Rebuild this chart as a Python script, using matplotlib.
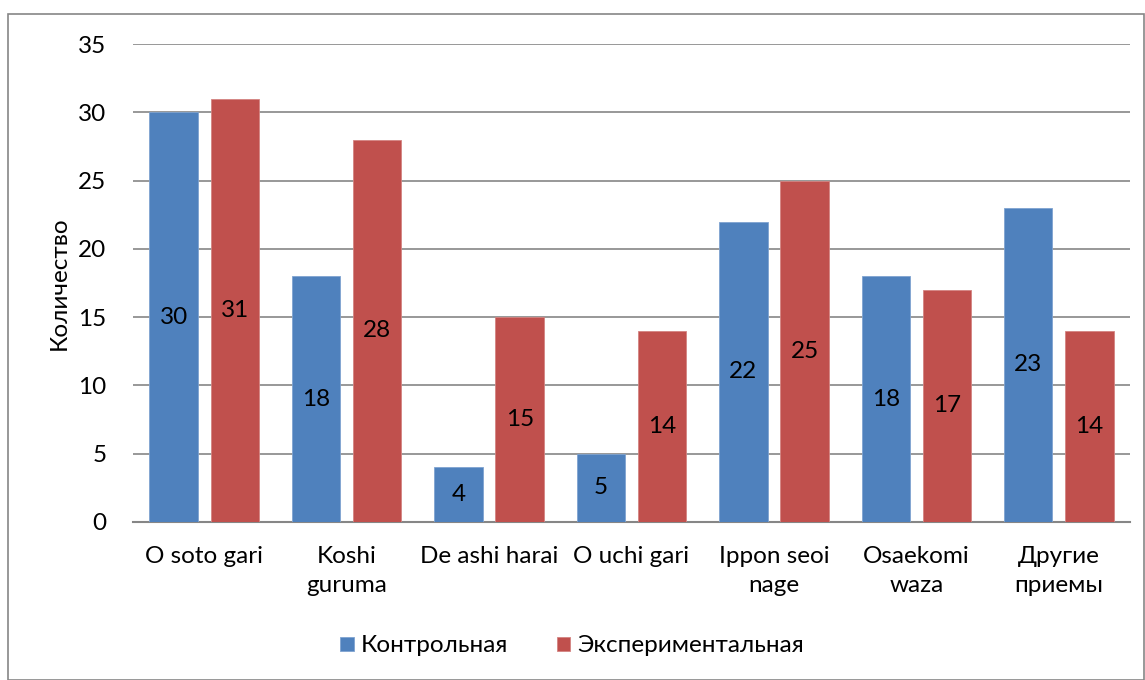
import matplotlib.pyplot as plt
import numpy as np
from matplotlib.patches import Rectangle

categories = ["O soto gari", "Koshi\nguruma", "De ashi harai", "O uchi gari",
              "Ippon seoi\nnage", "Osaekomi\nwaza", "Другие\nприемы"]
control = [30, 18, 4, 5, 22, 18, 23]
experimental = [31, 28, 15, 14, 25, 17, 14]
series_names = ["Контрольная", "Экспериментальная"]
y_label = "Количество"

plt.rcParams['font.family'] = ['Lato', 'DejaVu Sans']
FS = 17.5

fig = plt.figure(figsize=(11.45, 6.8), dpi=100)
fig.patches.append(Rectangle((8 / 1145, 0.0), 1 - 8 / 1145 - 1 / 1145, 1 - 14 / 680,
                             transform=fig.transFigure, fill=False,
                             edgecolor='#868686', linewidth=1.2))
ax = fig.add_axes([133 / 1145, 1 - 522 / 680, (1130 - 133) / 1145, (522 - 44) / 680])

x = np.arange(len(categories))
w = 0.34
b1 = ax.bar(x - 0.215, control, width=w, color='#4F81BD', edgecolor='#7FA3D0', linewidth=0.6,
            label=series_names[0], zorder=3)
b2 = ax.bar(x + 0.215, experimental, width=w, color='#C0504D', edgecolor='#D48482', linewidth=0.6,
            label=series_names[1], zorder=3)

for bars in (b1, b2):
    for r in bars:
        h = r.get_height()
        ax.text(r.get_x() + r.get_width() / 2, h / 2, str(int(h)), ha='center', va='center',
                fontsize=FS, zorder=4)

ax.set_xlim(-0.5, len(categories) - 0.5)
ax.set_ylim(0, 35)
ax.set_yticks(range(0, 36, 5))
ax.grid(axis='y', color='#868686', linewidth=1.2, zorder=0)
for s in ['top', 'right', 'left']:
    ax.spines[s].set_visible(False)
ax.spines['bottom'].set_color('#868686')
ax.spines['bottom'].set_linewidth(1.5)
ax.set_xticks(x)
ax.set_xticklabels(categories, fontsize=FS, linespacing=1.5)
ax.tick_params(axis='x', length=0, pad=17)
ax.tick_params(axis='y', length=0, pad=19, labelsize=FS)
ax.set_ylabel(y_label, fontsize=FS, labelpad=6)

fig.legend(handles=[b1, b2], loc='center', bbox_to_anchor=(0.5, 1 - 646 / 680), ncol=2,
           frameon=False, fontsize=FS, handlelength=0.55, handleheight=0.55,
           handletextpad=0.3, columnspacing=2.0)

fig.savefig("out.png", dpi=100)
